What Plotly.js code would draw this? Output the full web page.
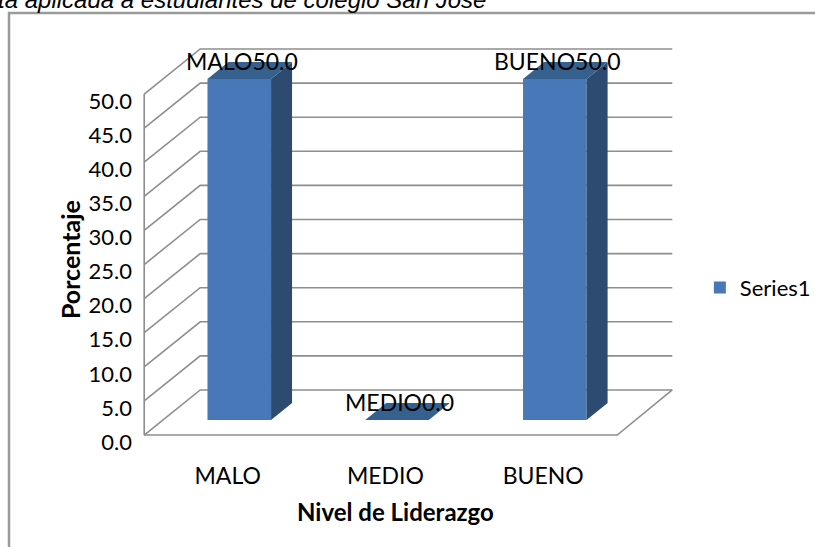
<!DOCTYPE html>
<html>
<head>
<meta charset="utf-8">
<script src="https://cdn.plot.ly/plotly-3.0.1.min.js"></script>
<style>
  html, body { margin: 0; padding: 0; background: #ffffff; }
  #chart { width: 815px; height: 547px; }
</style>
</head>
<body>
<div id="chart"></div>
<script>
// ---- data ----
const categories = ['MALO', 'MEDIO', 'BUENO'];
const values = [50.0, 0.0, 50.0];
const seriesName = 'Series1';
const yTicks = [0, 5, 10, 15, 20, 25, 30, 35, 40, 45, 50];
const yTickText = yTicks.map(v => v.toFixed(1));
const titleText = 'Encuesta aplicada a estudiantes de colegio San José';
const xTitle = 'Nivel de Liderazgo';
const yTitle = 'Porcentaje';

// ---- 3D look geometry (axis units) ----
const BAR_OFFSET = -0.128, BAR_WIDTH = 0.403;
const SIDE_DX = 0.133, SIDE_DY = 2.49;
const WALL_XF_L = -0.529, WALL_XB_L = -0.174, WALL_XF_R = 2.469, WALL_XB_R = 2.818;
const FRONT_DY = -2.2, BACK_DY = 4.4;
const GRID_COLOR = '#8e8e8e';
const FRONT_COLOR = '#4878B7', SIDE_COLOR = '#2D4B71', TOP_COLOR = '#36618F';
const FONT = 'Lato, "Open Sans", sans-serif';

const xIdx = categories.map((c, i) => i);
const yMax = yTicks[yTicks.length - 1];

const shapes = [];
// back wall + left wall grid lines
yTicks.forEach(v => {
  shapes.push({
    type: 'path', xref: 'x', yref: 'y', layer: 'below',
    path: `M${WALL_XF_L},${v + FRONT_DY} L${WALL_XB_L},${v + BACK_DY} L${WALL_XB_R},${v + BACK_DY}`,
    line: { color: GRID_COLOR, width: 1.6 }
  });
});
// front vertical edge (value axis line)
shapes.push({
  type: 'path', xref: 'x', yref: 'y', layer: 'below',
  path: `M${WALL_XF_L},${FRONT_DY} L${WALL_XF_L},${yMax + FRONT_DY}`,
  line: { color: GRID_COLOR, width: 1.6 }
});
// floor
shapes.push({
  type: 'path', xref: 'x', yref: 'y', layer: 'below',
  path: `M${WALL_XF_L},${FRONT_DY} L${WALL_XF_R},${FRONT_DY} L${WALL_XB_R},${BACK_DY}`,
  line: { color: GRID_COLOR, width: 1.6 }
});
// bar side and top faces
xIdx.forEach((x, i) => {
  const v = values[i];
  const xl = x + BAR_OFFSET, xr = x + BAR_OFFSET + BAR_WIDTH;
  shapes.push({
    type: 'path', xref: 'x', yref: 'y', layer: 'above',
    path: `M${xr},0 L${xr},${v} L${xr + SIDE_DX},${v + SIDE_DY} L${xr + SIDE_DX},${SIDE_DY} Z`,
    fillcolor: SIDE_COLOR, line: { width: 0 }
  });
  shapes.push({
    type: 'path', xref: 'x', yref: 'y', layer: 'above',
    path: `M${xl},${v} L${xr},${v} L${xr + SIDE_DX},${v + SIDE_DY} L${xl + SIDE_DX},${v + SIDE_DY} Z`,
    fillcolor: TOP_COLOR, line: { width: 0 }
  });
});
// chart area border (top and left edges visible)
shapes.push({
  type: 'path', xref: 'paper', yref: 'paper', layer: 'above',
  path: 'M-0.2183,-0.3 L-0.2183,1.064 L1.3,1.064',
  line: { color: '#9a9a9a', width: 2.5 }
});

const annotations = [];
xIdx.forEach((x, i) => {
  annotations.push({
    xref: 'x', yref: 'y', x: x, y: values[i], xshift: 14.5, yshift: 18,
    text: categories[i] + values[i].toFixed(1), showarrow: false,
    xanchor: 'center', yanchor: 'middle',
    font: { family: FONT, size: 23, color: '#000000' }
  });
});
annotations.push({
  xref: 'paper', yref: 'paper', x: 0.625, y: 1.096, xanchor: 'right', yanchor: 'middle',
  text: '<i>' + titleText + '</i>', showarrow: false,
  font: { family: '"Liberation Sans", Arial, sans-serif', size: 24, color: '#000000' }
});
annotations.push({
  xref: 'paper', yref: 'paper', x: 0.4613, y: -0.1238, xanchor: 'center', yanchor: 'middle',
  text: '<b>' + xTitle + '</b>', showarrow: false,
  font: { family: FONT, size: 24, color: '#000000' }
});
annotations.push({
  xref: 'paper', yref: 'paper', x: -0.1109, y: 0.476, xanchor: 'center', yanchor: 'middle',
  text: '<b>' + yTitle + '</b>', showarrow: false, textangle: -90,
  font: { family: FONT, size: 25, color: '#000000' }
});

const traces = [{
  type: 'bar', name: seriesName, x: xIdx, y: values,
  offset: BAR_OFFSET, width: BAR_WIDTH,
  marker: { color: FRONT_COLOR, line: { width: 0 } },
  showlegend: true, hoverinfo: 'skip'
}];

const layout = {
  width: 815, height: 547,
  margin: { l: 133, r: 114, t: 40, b: 87, autoexpand: false },
  paper_bgcolor: '#ffffff', plot_bgcolor: '#ffffff',
  font: { family: FONT, size: 22, color: '#000000' },
  showlegend: true,
  legend: {
    x: 0.998, xanchor: 'left', y: 0.41, yanchor: 'middle',
    font: { family: FONT, size: 22, color: '#000000' },
    bgcolor: 'rgba(0,0,0,0)', borderwidth: 0
  },
  xaxis: {
    range: [-0.6, 3.0], tickvals: xIdx, ticktext: categories,
    showgrid: false, zeroline: false, showline: false, ticks: '',
    automargin: false,
    tickfont: { family: FONT, size: 23, color: '#000000' }, fixedrange: true
  },
  yaxis: {
    range: [-5.865, 55.72], tickvals: yTicks, ticktext: yTickText,
    showgrid: false, zeroline: false, showline: false, ticks: '',
    automargin: false,
    ticklabelshift: 22,
    tickfont: { family: FONT, size: 22, color: '#000000' }, fixedrange: true
  },
  shapes: shapes,
  annotations: annotations,
  hovermode: false
};

Plotly.newPlot('chart', traces, layout, { displayModeBar: false, staticPlot: true });
</script>
</body>
</html>
